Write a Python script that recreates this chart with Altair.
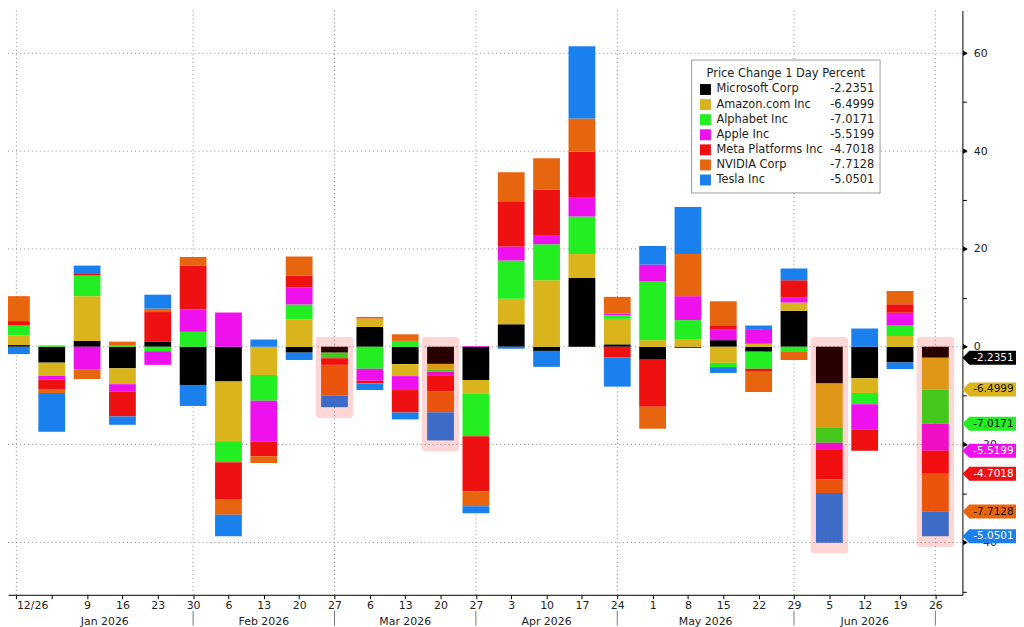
import altair as alt
import pandas as pd

# ---------------- data ----------------
names = ["Microsoft Corp", "Amazon.com Inc", "Alphabet Inc", "Apple Inc",
         "Meta Platforms Inc", "NVIDIA Corp", "Tesla Inc"]
colors = ["#000000", "#D9B41C", "#22EE22", "#EE11EE", "#EE1111", "#E8650F", "#1A80EE"]

week_labels = ["12/26", "", "9", "16", "23", "30", "6", "13", "20", "27", "6", "13", "20",
               "27", "3", "10", "17", "24", "1", "8", "15", "22", "29", "5", "12", "19", "26"]
month_names = ["Jan 2026", "Feb 2026", "Mar 2026", "Apr 2026", "May 2026", "Jun 2026"]
month_bounds = [0, 5, 9, 13, 17, 22, 26]
highlight_weeks = [9, 12, 23, 26]
grid_values = [-40, -20, 0, 20, 40, 60]
legend_title = "Price Change 1 Day Percent"

msft = [0.35, -3.25, 1.2, -4.4, 1.0, -7.8, -7.1, 0.0, -1.2, -1.2, 4.05, -3.55, -3.5, -6.8,
        4.6, -0.85, 14.05, 0.5, -2.65, -0.2, 1.35, -1.0, 7.35, -7.5, -6.45, -3.2, -2.2351]
amzn = [2.0, -2.7, 9.15, -3.25, 0.0, 0.0, -12.2, -5.75, 5.6, 0.0, 1.7, -2.45, -1.15, -2.85,
        5.2, 13.6, 4.9, 5.2, 1.35, 1.55, -3.3, 0.6, 1.7, -9.1, -3.0, 2.2, -6.4999]
googl = [2.0, 0.27, 4.2, 0.35, -0.9, 3.05, -4.3, -5.3, 3.05, -1.15, -4.5, 1.2, -0.45, -8.65,
         7.85, 7.35, 7.7, 0.75, 12.1, 3.9, -0.85, -3.5, -0.9, -3.0, -2.3, 2.25, -7.0171]
aapl = [0.0, -0.8, -4.6, -1.5, -2.8, 4.6, 7.0, -8.3, 3.5, 0.0, -2.45, -2.85, -0.85, 0.15,
        2.85, 1.75, 3.8, 0.35, 3.35, 4.9, 2.25, 2.85, 1.0, -1.5, -5.2, 2.5, -5.5199]
meta = [0.9, -1.9, 0.5, -5.1, 6.1, 8.95, -7.7, -3.05, 2.4, -1.35, -0.55, -4.6, -3.2, -11.3,
        9.25, 9.45, 9.4, -2.2, -9.6, 0.0, 0.8, -0.45, 3.55, -6.0, -4.3, 1.75, -4.7018]
nvda = [5.1, -0.8, -2.0, 0.7, 0.7, 1.75, -3.05, -1.35, 3.9, -6.3, 0.35, 1.35, -4.25, -3.0,
        5.95, 6.4, 6.8, 3.4, -4.5, 8.6, 4.9, -4.3, -1.8, -2.8, 0.0, 2.7, -7.7128]
tsla = [-1.5, -7.9, 1.55, -1.7, 2.85, -4.3, -4.4, 1.5, -1.5, -2.35, -1.35, -1.4, -5.75, -1.45,
        -0.4, -3.25, 14.8, -5.95, 3.8, 9.65, -1.2, 0.9, 2.4, -10.15, 3.75, -1.35, -5.0501]
series = [msft, amzn, googl, aapl, meta, nvda, tsla]

# ---------------- layout ----------------
W, H = 962, 589
STEP = 36.0
XMIN = -3.5 / STEP
XMAX = XMIN + W / STEP
PX = 4.93
YMAX = 339 / PX
YMIN = -(H - 339) / PX
FONT = "DejaVu Sans"
LAST = len(week_labels) - 1

rows = []
for s, (nm, vals) in enumerate(zip(names, series)):
    for i, v in enumerate(vals):
        rows.append({"idx": i, "name": nm, "sidx": s, "value": v,
                     "hl": i in highlight_weeks, "lbl": f"{v:.4f}"})
df = pd.DataFrame(rows)

xs = alt.Scale(domain=[XMIN, XMAX], nice=False, zero=False)
ys = alt.Scale(domain=[YMIN, YMAX], nice=False, zero=False)
cs = alt.Scale(domain=names, range=colors)

label_expr = "[" + ",".join(f"'{l}'" for l in week_labels) + "][datum.value]"

xaxis = alt.Axis(values=list(range(len(week_labels))), labelExpr=label_expr,
                 grid=False, tickSize=4, labelPadding=1, domainColor="black",
                 tickColor="black", labelColor="#222", labelFontSize=11,
                 labelFont=FONT, labelFlush=False,
                 labelAlign={"condition": {"test": "datum.value === 0", "value": "left"},
                             "value": "center"},
                 labelOverlap=False, labelBound=False, title=None)
yaxis = alt.Axis(orient="right", values=list(range(-50, 71, 10)),
                 labelExpr="datum.value % 20 == 0 ? datum.label : ''",
                 grid=False, tickSize=4, labelPadding=7, domainColor="black",
                 tickColor="black", labelColor="#222", labelFontSize=11,
                 labelFont=FONT, labelOverlap=False, title=None)


def X(field):
    return alt.X(field, scale=xs, axis=xaxis)


def Y(field, **kw):
    return alt.Y(field, scale=ys, axis=yaxis, **kw)


base = alt.Chart(df)

bars = base.mark_bar(size=27, clip=True, orient="vertical").encode(
    x=X("idx:Q"),
    y=Y("value:Q", stack="zero"),
    color=alt.Color("name:N", scale=cs, legend=None),
    order=alt.Order("sidx:Q", sort="ascending"),
)

highlight = base.transform_filter("datum.hl").transform_calculate(
    neg="min(datum.value, 0)"
).transform_aggregate(neg="sum(neg)", groupby=["idx"]).transform_calculate(
    x1="datum.idx - 0.53", x2="datum.idx + 0.53", top="2", bot="datum.neg - 2.2"
).mark_rect(color="#ff0000", opacity=0.16, cornerRadius=3, clip=True).encode(
    x=X("x1:Q"), x2="x2:Q", y=Y("top:Q"), y2="bot:Q",
)

hgrid = alt.Chart(pd.DataFrame({"v": grid_values})).mark_rule(
    color="#8a8a8a", strokeDash=[1, 3], strokeWidth=1
).encode(y=Y("v:Q"), x=alt.value(0), x2=alt.value(W))

vgrid = alt.Chart(pd.DataFrame({"b": month_bounds})).mark_rule(
    color="#8a8a8a", strokeDash=[1, 3], strokeWidth=1
).encode(x=X("b:Q"), y=alt.value(0), y2=alt.value(H))

mdf = pd.DataFrame({
    "m": month_names,
    "mid": [(month_bounds[i] + month_bounds[i + 1]) / 2 for i in range(len(month_names))],
})
month_text = alt.Chart(mdf).mark_text(
    font=FONT, fontSize=11, color="#222", baseline="middle", clip=False
).encode(x=X("mid:Q"), y=alt.value(H + 27), text="m:N")

month_sep = alt.Chart(pd.DataFrame({"b": month_bounds[1:]})).mark_rule(
    color="#777", strokeWidth=1, clip=False
).encode(x=X("b:Q"), y=alt.value(H + 16), y2=alt.value(H + 31))

triangles = alt.Chart(pd.DataFrame({"v": grid_values})).mark_point(
    shape="triangle-right", filled=True, size=30, color="black", opacity=1, clip=False
).encode(y=Y("v:Q"), x=alt.value(W + 3))

# value tags on the right axis for the latest week
TAG = "M-1,0L-0.74,-0.26L1,-0.26L1,0.26L-0.74,0.26Z"
tag_base = base.transform_filter(f"datum.idx == {LAST}").transform_window(
    cum="sum(value)", sort=[alt.SortField("sidx")], frame=[None, 0]
).transform_calculate(
    tc="indexof([1, 2, 5], datum.sidx) >= 0 ? '#111111' : '#ffffff'"
)
tag_shape = tag_base.mark_point(
    shape=TAG, filled=True, size=54 * 54, opacity=1, strokeWidth=0, clip=False
).encode(
    x=alt.value(W + 27), y=Y("cum:Q"),
    color=alt.Color("name:N", scale=cs, legend=None),
)
tag_text = tag_base.mark_text(
    align="left", baseline="middle", font=FONT, fontSize=10.5, clip=False
).encode(
    x=alt.value(W + 11), y=Y("cum:Q"), text="lbl:N",
    fill=alt.Fill("tc:N", scale=None),
)

# custom legend box
one = alt.Chart(pd.DataFrame({"a": [0]}))
leg_box = one.mark_rect(fill="white", stroke="#9a9a9a", strokeWidth=1).encode(
    x=alt.value(689), x2=alt.value(879), y=alt.value(50), y2=alt.value(184)
)
leg_title = one.mark_text(font=FONT, fontSize=11.5, color="#222", baseline="middle").encode(
    x=alt.value(784), y=alt.value(64), text=alt.value(legend_title)
)
ldf = pd.DataFrame({"name": names, "sidx": list(range(len(names))),
                    "val": [f"{s[-1]:.4f}" for s in series]})
leg_base = alt.Chart(ldf).transform_calculate(ly="79.7 + 15.2 * datum.sidx")
leg_sw = leg_base.mark_square(size=121, opacity=1).encode(
    x=alt.value(703), y=alt.Y("ly:Q", scale=None),
    color=alt.Color("name:N", scale=cs, legend=None),
)
leg_name = leg_base.mark_text(align="left", baseline="middle", font=FONT, fontSize=11.5,
                              color="#222").encode(
    x=alt.value(714), y=alt.Y("ly:Q", scale=None), text="name:N"
)
leg_val = leg_base.mark_text(align="right", baseline="middle", font=FONT, fontSize=11.5,
                             color="#222").encode(
    x=alt.value(873), y=alt.Y("ly:Q", scale=None), text="val:N"
)

chart = alt.layer(
    hgrid, vgrid, bars, highlight, leg_box, leg_title, leg_sw, leg_name, leg_val,
    month_text, month_sep, triangles, tag_shape, tag_text
).properties(
    width=W, height=H,
    autosize=alt.AutoSizeParams(type="none"),
    padding={"left": 0, "top": 0, "right": 54, "bottom": 30},
    background="white",
).configure_view(stroke=None)

chart.save("out.html", embed_options={"renderer": "svg", "actions": False})
